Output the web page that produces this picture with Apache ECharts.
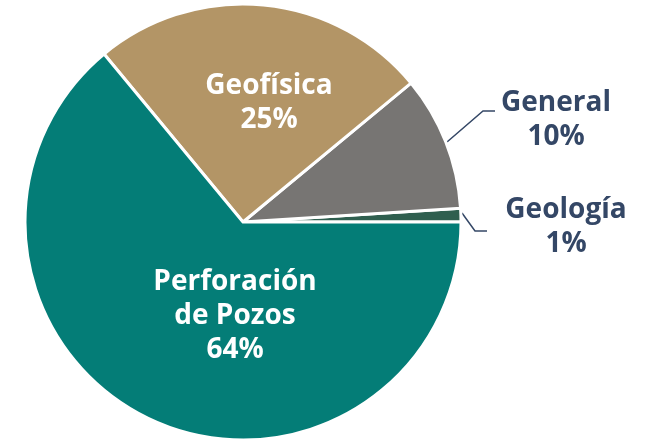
<!DOCTYPE html>
<html><head><meta charset="utf-8">
<script src="https://cdn.jsdelivr.net/npm/echarts@6/dist/echarts.min.js"></script>
<style>html,body{margin:0;padding:0;background:#fff}#c{width:649px;height:442px}</style>
</head><body><div id="c"></div>
<script>
const categories = ['Geología', 'General', 'Geofísica', 'Perforación\nde Pozos'];
const values = [1, 10, 25, 64];
const colors = ['#2F5F4F', '#777573', '#B39566', '#047D77'];

const CX = 243, CY = 222, R = 218;
// label placement relative to pie center
const labelPos = {
  0: {x: CX + 323, y: CY + 5, line: [[CX + 219, CY - 9], [CX + 232, CY + 9], [CX + 244, CY + 9]]},
  1: {x: CX + 313, y: CY - 102, line: [[CX + 204, CY - 80], [CX + 240, CY - 111], [CX + 252, CY - 111]]},
  2: {x: CX + 26, y: CY - 119},
  3: {x: CX - 8, y: CY + 94}
};

const chart = echarts.init(document.getElementById('c'));
chart.setOption({
  animation: false,
  series: [{
    type: 'pie',
    center: [CX, CY],
    radius: R,
    startAngle: 0,
    clockwise: false,
    label: {
      show: true,
      formatter: p => p.name + '\n' + p.value + '%',
      fontFamily: 'Open Sans',
      fontWeight: 700,
      fontSize: 28,
      lineHeight: 34,
      align: 'center'
    },
    labelLine: {show: true, lineStyle: {color: '#344766', width: 1.5}},
    labelLayout: function (p) {
      const L = labelPos[p.dataIndex];
      const o = {x: L.x, y: L.y, align: 'center', verticalAlign: 'middle'};
      if (L.line) o.labelLinePoints = L.line;
      return o;
    },
    itemStyle: {borderColor: '#fff', borderWidth: 3},
    data: categories.map((n, i) => ({
      name: n, value: values[i],
      itemStyle: {color: colors[i]},
      label: i < 2 ? {position: 'outside', color: '#344766', align: 'center'} : {position: 'inside', color: '#fff'},
      labelLine: {show: i < 2}
    }))
  }]
});
</script></body></html>
